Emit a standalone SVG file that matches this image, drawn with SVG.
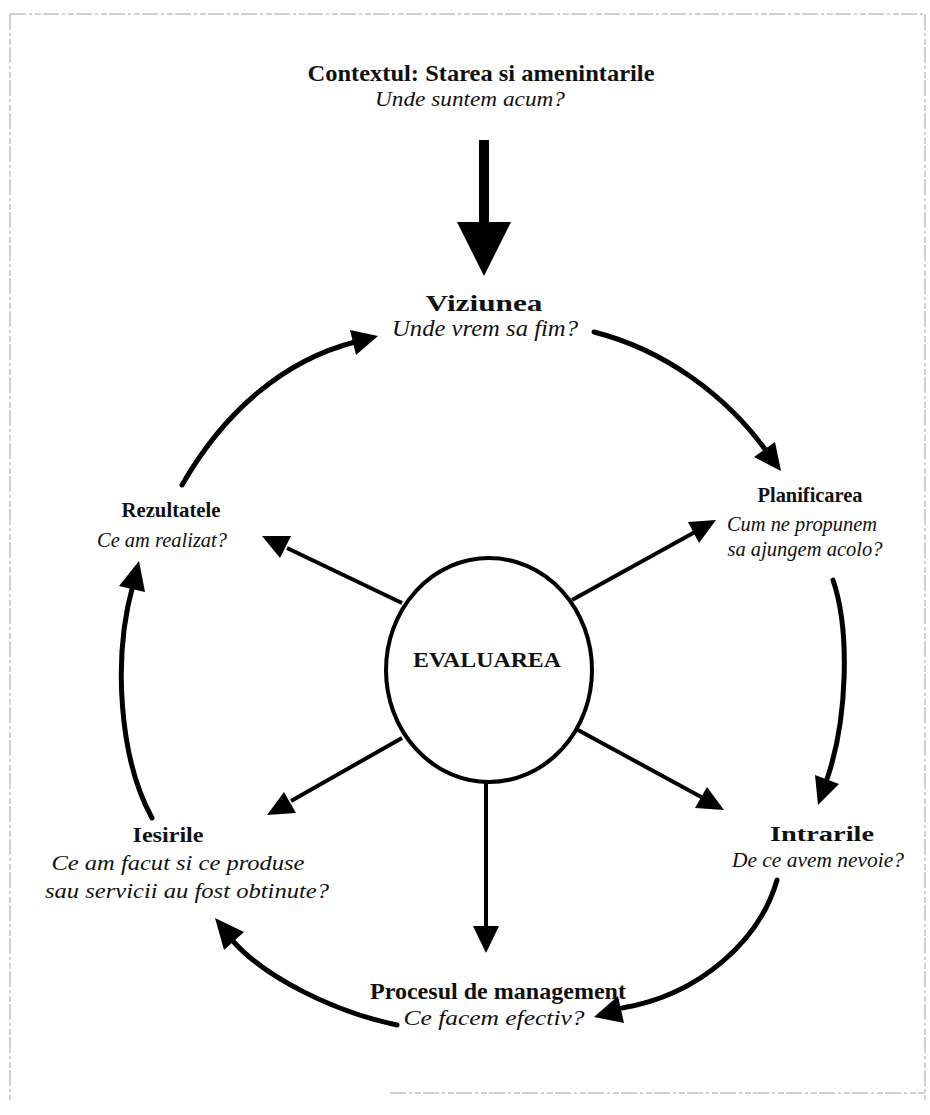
<svg xmlns="http://www.w3.org/2000/svg" width="930" height="1115" viewBox="0 0 930 1115">
  <style>
    .frame { fill: none; stroke: #a0a0a0; stroke-width: 1; stroke-dasharray: 16 3 3 3 6 2; }
    .b { font-family: "Liberation Serif", "Times New Roman", serif; font-weight: bold; fill: #111; text-anchor: middle; }
    .i { font-family: "Liberation Serif", "Times New Roman", serif; font-style: italic; fill: #111; text-anchor: middle; }
    .arc { fill: none; stroke: #000; stroke-width: 5; stroke-linecap: round; }
    .spoke { fill: none; stroke: #000; stroke-width: 4; }
    .head { fill: #000; }
  </style>

  <!-- page frame -->
  <path class="frame" d="M10 14 H925 M10 14 V1100 M925 14 V1100 M390 1093 H925"/>

  <!-- context at the top -->
  <g id="context">
    <text class="b" x="481" y="81" font-size="23" textLength="347" lengthAdjust="spacingAndGlyphs">Contextul: Starea si amenintarile</text>
    <text class="i" x="470" y="106" font-size="21" textLength="190" lengthAdjust="spacingAndGlyphs">Unde suntem acum?</text>
  </g>

  <g id="viziunea">
    <text class="b" x="484" y="311" font-size="24" textLength="117" lengthAdjust="spacingAndGlyphs">Viziunea</text>
    <text class="i" x="485" y="336" font-size="23" textLength="186" lengthAdjust="spacingAndGlyphs">Unde vrem sa fim?</text>
  </g>

  <g id="planificarea">
    <text class="b" x="810" y="502" font-size="22" textLength="105" lengthAdjust="spacingAndGlyphs">Planificarea</text>
    <text class="i" x="802" y="531" font-size="21" textLength="150" lengthAdjust="spacingAndGlyphs">Cum ne propunem</text>
    <text class="i" x="805" y="556" font-size="21" textLength="155" lengthAdjust="spacingAndGlyphs">sa ajungem acolo?</text>
  </g>

  <g id="intrarile">
    <text class="b" x="822" y="841" font-size="22" textLength="104" lengthAdjust="spacingAndGlyphs">Intrarile</text>
    <text class="i" x="818" y="867" font-size="22" textLength="172" lengthAdjust="spacingAndGlyphs">De ce avem nevoie?</text>
  </g>

  <g id="procesul">
    <text class="b" x="498" y="999" font-size="23" textLength="256" lengthAdjust="spacingAndGlyphs">Procesul de management</text>
    <text class="i" x="494" y="1025" font-size="21" textLength="181" lengthAdjust="spacingAndGlyphs">Ce facem efectiv?</text>
  </g>

  <g id="iesirile">
    <text class="b" x="168" y="842" font-size="22" textLength="71" lengthAdjust="spacingAndGlyphs">Iesirile</text>
    <text class="i" x="178" y="870" font-size="21" textLength="253" lengthAdjust="spacingAndGlyphs">Ce am facut si ce produse</text>
    <text class="i" x="187" y="898" font-size="21" textLength="284" lengthAdjust="spacingAndGlyphs">sau servicii au fost obtinute?</text>
  </g>

  <g id="rezultatele">
    <text class="b" x="171" y="517" font-size="22" textLength="99" lengthAdjust="spacingAndGlyphs">Rezultatele</text>
    <text class="i" x="162" y="547" font-size="21" textLength="130" lengthAdjust="spacingAndGlyphs">Ce am realizat?</text>
  </g>

  <g id="evaluarea">
    <ellipse cx="489" cy="670" rx="103" ry="112" fill="#fff" stroke="#000" stroke-width="4"/>
    <text class="b" x="487" y="667" font-size="21" textLength="148" lengthAdjust="spacingAndGlyphs">EVALUAREA</text>
  </g>

  <g id="connectors">
    <!-- context feeds the vision -->
    <rect x="479" y="140" width="10" height="86" fill="#000"/>
    <polygon class="head" points="457,222 511,222 484,276"/>

    <!-- cycle: vision -> planning -> inputs -> process -> outputs -> results -> vision -->
    <path class="arc" d="M594 332 C665 350 727 396 767 452"/>
    <polygon class="head" points="781,471 775,442 754,457"/>

    <path class="arc" d="M833 580 C850 630 848 720 826 782"/>
    <polygon class="head" points="818,805 839,784 815,775"/>

    <path class="arc" d="M777 880 C760 940 700 995 622 1008"/>
    <polygon class="head" points="594,1017 624,1023 618,996"/>

    <path class="arc" d="M397 1025 C335 1012 265 978 232 940"/>
    <polygon class="head" points="215,918 224,950 244,932"/>

    <path class="arc" d="M152 818 C120 760 112 660 133 585"/>
    <polygon class="head" points="139,561 119,586 145,592"/>

    <path class="arc" d="M182 485 C225 410 285 360 355 342"/>
    <polygon class="head" points="378,336 350,330 356,355"/>

    <!-- evaluation spokes -->
    <line class="spoke" x1="402" y1="603" x2="287" y2="548"/>
    <polygon class="head" points="262,536 291,536 280,558"/>

    <line class="spoke" x1="572" y1="600" x2="695" y2="532"/>
    <polygon class="head" points="716,520 688,522 699,543"/>

    <line class="spoke" x1="402" y1="738" x2="291" y2="801"/>
    <polygon class="head" points="267,815 284,792 296,813"/>

    <line class="spoke" x1="578" y1="730" x2="703" y2="798"/>
    <polygon class="head" points="724,810 707,787 695,808"/>

    <line class="spoke" x1="486" y1="782" x2="486" y2="930"/>
    <polygon class="head" points="473,926 499,926 486,953"/>
  </g>
</svg>
